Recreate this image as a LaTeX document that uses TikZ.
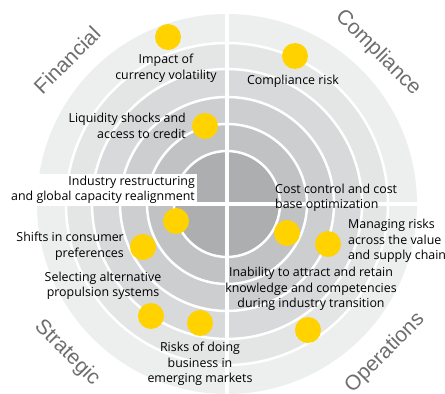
\documentclass[tikz,border=0pt]{standalone}
\usepackage{fontspec}
\setmainfont{Open Sans}
\newfontfamily\quadfont{Liberation Sans}

\definecolor{ringA}{HTML}{EDEEEE}
\definecolor{ringB}{HTML}{E4E5E5}
\definecolor{ringC}{HTML}{D8D9DA}
\definecolor{ringD}{HTML}{CDCECF}
\definecolor{ringE}{HTML}{C1C2C3}
\definecolor{ringF}{HTML}{ADAEAF}
\definecolor{riskyellow}{HTML}{FFD200}
\definecolor{areagray}{HTML}{6E6E70}

\begin{document}
\begin{tikzpicture}[x=1pt, y=1pt,
    riskdot/.style={circle, fill=riskyellow, minimum size=26pt, inner sep=0pt},
    risktext/.style={font=\fontsize{12.4}{15.5}\selectfont, inner sep=0pt},
    quadrant/.style={font=\quadfont\fontsize{21}{24}\selectfont, text=areagray, inner sep=0pt}]

    \useasboundingbox (0,0) rectangle (445,394);

    % Center of the rings
    \coordinate (center) at (227,190);

    % Rings, outside in
    \foreach \r/\c in {190/ringA, 161/ringB, 135/ringC, 107/ringD, 80/ringE, 53/ringF}
        \fill[\c] (center) circle (\r);

    % White ring lines
    \foreach \r in {53, 80, 107, 135, 161}
        \draw[white, line width=2.5pt] (center) circle (\r);

    % Quadrant cross
    \draw[white, line width=4.5pt] (center) ++(0,-191) -- ++(0,382);
    \draw[white, line width=4pt] (center) ++(-191,0) -- ++(382,0);

    % Quadrant names
    \node[quadrant, rotate=45] (financial) at (67,334) {Financial};
    \node[quadrant, rotate=-45] (compliance) at (378,341) {Compliance};
    \node[quadrant, rotate=-45] (strategic) at (67,41) {Strategic};
    \node[quadrant, rotate=45] (operations) at (385,41) {Operations};

    % Risks
    \node[riskdot] (volatility) at (168,357) {};
    \node[risktext, align=center] (volatilitytext) at (166,326) {Impact of\\currency volatility};

    \node[riskdot] (liquidity) at (205,268) {};
    \node[risktext, align=right, anchor=east] (liquiditytext) at (186,268) {Liquidity shocks and\\access to credit};

    \node[riskdot] (restructuring) at (176,173) {};
    \node[risktext, align=right, anchor=east, fill=white, inner sep=2pt] (restructuringtext) at (197,204) {Industry restructuring\\and global capacity realignment};

    \node[riskdot] (consumer) at (143,147) {};
    \node[risktext, align=right, anchor=east] (consumertext) at (124,148) {Shifts in consumer\\preferences};

    \node[riskdot] (propulsion) at (151,78) {};
    \node[risktext, align=center] (propulsiontext) at (103,108) {Selecting alternative\\propulsion systems};

    \node[riskdot] (emerging) at (200,71) {};
    \node[risktext, align=center] (emergingtext) at (200,30) {Risks of doing\\business in\\emerging markets};

    \node[riskdot] (compliancerisk) at (295,338) {};
    \node[risktext] (compliancetext) at (293,313) {Compliance risk};

    \node[riskdot] (costcontrol) at (287,161) {};
    \node[risktext, align=left, anchor=west] (costcontroltext) at (275,196) {Cost control and cost\\base optimization};

    \node[riskdot] (valuechain) at (328,150) {};
    \node[risktext, align=left, anchor=west] (valuechaintext) at (348,153) {Managing risks\\across the value\\and supply chain};

    \node[riskdot] (talent) at (308,64) {};
    \node[risktext, align=center] (talenttext) at (311,105) {Inability to attract and retain\\knowledge and competencies\\during industry transition};

\end{tikzpicture}
\end{document}
